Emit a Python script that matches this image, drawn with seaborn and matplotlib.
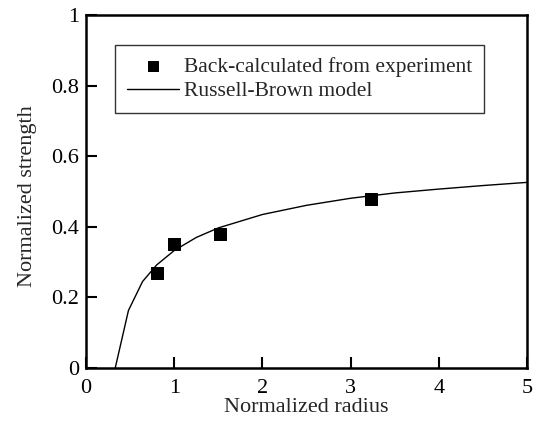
import numpy as np
import pandas as pd
import matplotlib
matplotlib.use('Agg')
import matplotlib.pyplot as plt
import seaborn as sns

# experiment points
exp_radius = [0.80, 1.00, 1.52, 3.23]
exp_strength = [0.27, 0.35, 0.38, 0.48]

# Russell-Brown model curve
model_radius = [0.33, 0.48, 0.64, 0.80, 1.0, 1.25, 1.5, 2.0, 2.5, 3.0, 3.5, 4.0, 4.5, 5.0]
model_strength = [0.0, 0.163, 0.245, 0.292, 0.333, 0.370, 0.397, 0.435, 0.461, 0.481, 0.496, 0.507, 0.517, 0.526]

sns.set_style('ticks')
plt.rcParams['font.family'] = ['Liberation Serif', 'DejaVu Serif']

fig = plt.figure(figsize=(5.35, 4.21), dpi=100)
ax = fig.add_axes([0.161, 0.126, 0.824, 0.838])

sns.lineplot(x=model_radius, y=model_strength, ax=ax, color='black', linewidth=1,
             label='Russell-Brown model', sort=False)
sns.scatterplot(x=exp_radius, y=exp_strength, ax=ax, color='black', marker='s', s=80,
                edgecolor='black', label='Back-calculated from experiment', zorder=3)

ax.set_xlim(0, 5)
ax.set_ylim(0, 1)
ax.set_xticks([0, 1, 2, 3, 4, 5])
ax.set_xticklabels(['0', '1', '2', '3', '4', '5'])
ax.set_yticks([0, 0.2, 0.4, 0.6, 0.8, 1])
ax.set_yticklabels(['0', '0.2', '0.4', '0.6', '0.8', '1'])
ax.tick_params(direction='in', length=8, width=1.5, labelsize=16, colors='black')
ax.tick_params(axis='x', pad=8)
ax.tick_params(axis='y', pad=5)
for sp in ax.spines.values():
    sp.set_linewidth(1.8)
    sp.set_color('black')
ax.set_xlabel('Normalized radius', fontsize=16, labelpad=0)
ax.set_ylabel('Normalized strength', fontsize=16)
ax.yaxis.set_label_coords(-0.112, 0.487)

h, l = ax.get_legend_handles_labels()
leg = ax.legend(h[::-1], l[::-1], loc='upper left', bbox_to_anchor=(0.066, 0.915),
                fontsize=15.5, frameon=True, fancybox=False, edgecolor='black',
                borderpad=0.55, borderaxespad=0, handlelength=2.4, handletextpad=0.25,
                labelspacing=0.2, markerscale=0.8)
leg.get_frame().set_linewidth(1)

fig.savefig('out.png', dpi=100)
